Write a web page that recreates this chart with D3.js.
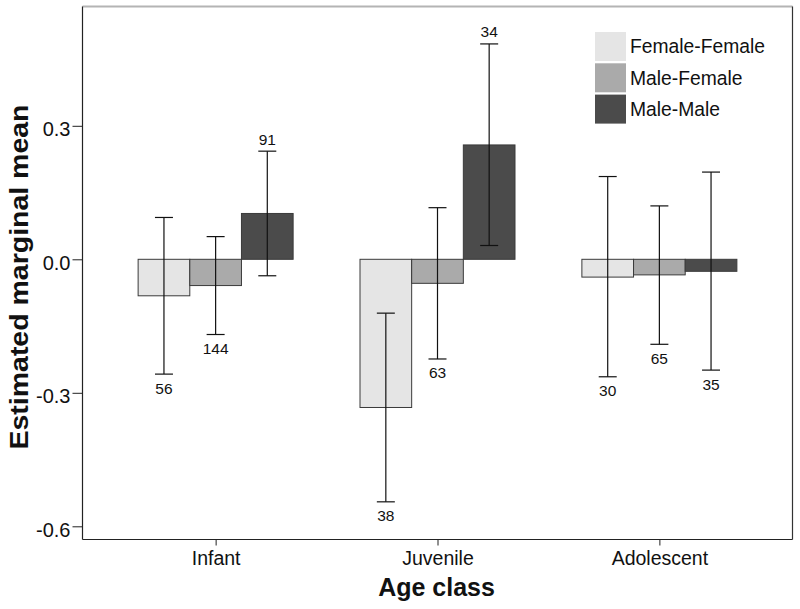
<!DOCTYPE html>
<html>
<head>
<meta charset="utf-8">
<script src="https://cdn.jsdelivr.net/npm/d3@7"></script>
<style>
  html, body { margin: 0; padding: 0; background: #fff; }
  svg { display: block; font-family: "Liberation Sans", Arial, sans-serif; }
</style>
</head>
<body>
<svg id="chart" width="800" height="609"></svg>
<script>
// ---- data ----
const categories = ["Infant", "Juvenile", "Adolescent"];
const seriesNames = ["Female-Female", "Male-Female", "Male-Male"];
const seriesColors = ["#e5e5e5", "#aaaaaa", "#4b4b4b"];
const meanFF = [-0.082, -0.333, -0.040];
const meanMF = [-0.059, -0.054, -0.035];
const meanMM = [0.103, 0.257, -0.027];
const upperFF = [0.094, -0.121, 0.186];
const upperMF = [0.051, 0.116, 0.120];
const upperMM = [0.243, 0.484, 0.196];
const lowerFF = [-0.258, -0.545, -0.264];
const lowerMF = [-0.169, -0.224, -0.191];
const lowerMM = [-0.037, 0.031, -0.249];
const countFF = [56, 38, 30];
const countMF = [144, 63, 65];
const countMM = [91, 34, 35];
const yTicks = [0.3, 0.0, -0.3, -0.6];
const yTickLabels = ["0.3", "0.0", "-0.3", "-0.6"];

const means = [meanFF, meanMF, meanMM];
const uppers = [upperFF, upperMF, upperMM];
const lowers = [lowerFF, lowerMF, lowerMM];
const counts = [countFF, countMF, countMM];

const rows = [];
categories.forEach((c, ci) => {
  seriesNames.forEach((s, si) => {
    rows.push({cat: c, ser: s, si: si,
      mean: means[si][ci], lo: lowers[si][ci], hi: uppers[si][ci], n: counts[si][ci]});
  });
});

// ---- layout ----
const svg = d3.select("#chart");
const pLeft = 82.5, pRight = 792.5, pTop = 6.5, pBottom = 539.5;

const x = d3.scalePoint().domain(categories).range([pLeft, pRight]).padding(0.6);
const groupW = 155;
const xs = d3.scaleBand().domain(seriesNames).range([-groupW / 2, groupW / 2]);
const y = d3.scaleLinear().domain([-0.6, 0.3]).range([526.3, 125.8]);
const color = d3.scaleOrdinal().domain(seriesNames).range(seriesColors);

// frame
svg.append("line").attr("x1", pLeft).attr("x2", pRight).attr("y1", pTop).attr("y2", pTop)
  .attr("stroke", "#b4b4b4").attr("stroke-width", 1.8);
svg.append("line").attr("x1", pRight).attr("x2", pRight).attr("y1", pTop).attr("y2", pBottom)
  .attr("stroke", "#333").attr("stroke-width", 1.2);

// y axis
const yAxis = d3.axisLeft(y).tickValues(yTicks)
  .tickFormat((d, i) => yTickLabels[i]).tickSize(10).tickSizeOuter(0);
const gy = svg.append("g").attr("transform", `translate(${pLeft},0)`).call(yAxis);
gy.select(".domain").remove();
gy.selectAll(".tick line").attr("stroke", "#222");
gy.selectAll(".tick text").attr("font-size", "20px").attr("fill", "#111")
  .attr("font-family", "Liberation Sans, Arial, sans-serif").attr("x", -12).attr("dy", "0.5em");
svg.append("line").attr("x1", pLeft).attr("x2", pLeft).attr("y1", pTop).attr("y2", pBottom)
  .attr("stroke", "#222").attr("stroke-width", 1.2);

// x axis
const xAxis = d3.axisBottom(x).tickSize(6).tickSizeOuter(0);
const gx = svg.append("g").attr("transform", `translate(0,${pBottom})`).call(xAxis);
gx.select(".domain").remove();
gx.selectAll(".tick line").attr("stroke", "#222");
gx.selectAll(".tick text").attr("font-size", "19.5px").attr("fill", "#111")
  .attr("font-family", "Liberation Sans, Arial, sans-serif").attr("y", 25.5).attr("dy", 0);
svg.append("line").attr("x1", pLeft).attr("x2", pRight).attr("y1", pBottom).attr("y2", pBottom)
  .attr("stroke", "#222").attr("stroke-width", 1.2);

// bars
const g = svg.append("g");
g.selectAll("rect.bar").data(rows).join("rect").attr("class", "bar")
  .attr("x", d => x(d.cat) + xs(d.ser))
  .attr("width", xs.bandwidth())
  .attr("y", d => Math.min(y(d.mean), y(0)))
  .attr("height", d => Math.abs(y(d.mean) - y(0)))
  .attr("fill", d => color(d.ser))
  .attr("stroke", "#3a3a3a").attr("stroke-width", 1);

// error bars
const cap = 9;
const eb = g.selectAll("g.err").data(rows).join("g").attr("class", "err")
  .attr("transform", d => `translate(${x(d.cat) + xs(d.ser) + xs.bandwidth() / 2},0)`);
eb.append("line").attr("y1", d => y(d.lo)).attr("y2", d => y(d.hi))
  .attr("stroke", "#111").attr("stroke-width", 1.2);
eb.append("line").attr("x1", -cap).attr("x2", cap).attr("y1", d => y(d.lo)).attr("y2", d => y(d.lo))
  .attr("stroke", "#111").attr("stroke-width", 1.2);
eb.append("line").attr("x1", -cap).attr("x2", cap).attr("y1", d => y(d.hi)).attr("y2", d => y(d.hi))
  .attr("stroke", "#111").attr("stroke-width", 1.2);
eb.append("text").attr("text-anchor", "middle").attr("font-size", "15.5px").attr("fill", "#111")
  .attr("y", d => d.mean > 0 ? y(d.hi) - 6.5 : y(d.lo) + 19.5)
  .text(d => d.n);

// legend
const lg = svg.append("g").attr("transform", "translate(595,32)");
seriesNames.forEach((s, i) => {
  const row = lg.append("g").attr("transform", `translate(0,${i * 31.3})`);
  row.append("rect").attr("width", 31).attr("height", 29).attr("fill", color(s));
  row.append("text").attr("x", 35).attr("y", 14.5).attr("dy", "0.36em")
    .attr("font-size", "19.3px").attr("fill", "#111").text(s);
});

// axis titles
svg.append("text").attr("x", (pLeft + pRight) / 2 - 1).attr("y", 596)
  .attr("text-anchor", "middle").attr("font-weight", "bold").attr("font-size", "25px")
  .attr("fill", "#111").text("Age class");
svg.append("text").attr("transform", "translate(28,277) rotate(-90)")
  .attr("text-anchor", "middle").attr("font-weight", "bold").attr("font-size", "25px")
  .attr("textLength", 345).attr("lengthAdjust", "spacingAndGlyphs")
  .attr("fill", "#111").text("Estimated marginal mean");
</script>
</body>
</html>
